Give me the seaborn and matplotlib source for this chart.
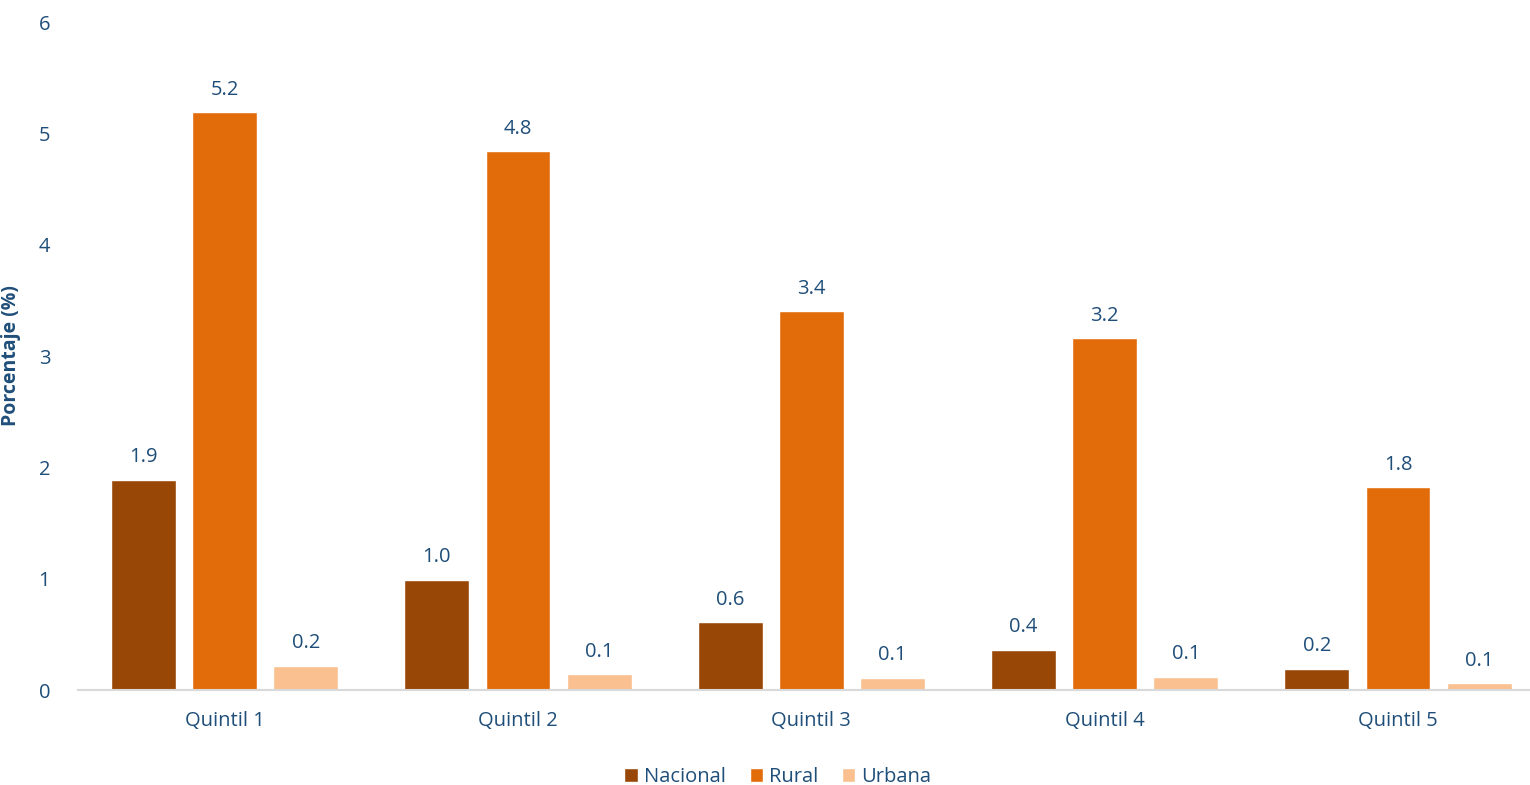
import seaborn as sns
import pandas as pd
import matplotlib.pyplot as plt

quintiles = ["Quintil 1", "Quintil 2", "Quintil 3", "Quintil 4", "Quintil 5"]
nacional = [1.89, 0.99, 0.61, 0.36, 0.19]
rural = [5.19, 4.84, 3.40, 3.16, 1.82]
urbana = [0.22, 0.14, 0.11, 0.12, 0.06]
series = ["Nacional", "Rural", "Urbana"]
colors = ["#994707", "#E36C0A", "#FAC090"]
text_color = "#1F4E79"

sns.set_theme(style="white")
plt.rcParams['font.family'] = ['Open Sans', 'DejaVu Sans']

df = pd.DataFrame({
    "quintil": quintiles * 3,
    "valor": nacional + rural + urbana,
    "area": [s for s in series for _ in quintiles],
})

fig = plt.figure(figsize=(15.3, 7.85), dpi=100)
ax = fig.add_axes([78 / 1530, 1 - 690 / 785, 1 - 78 / 1530, (690 - 22) / 785])
sns.barplot(df, x="quintil", y="valor", hue="area", palette=colors,
            width=0.83, gap=0.2, saturation=1, ax=ax)

for c in ax.containers:
    ax.bar_label(c, fmt="%.1f", padding=9, fontsize=14.5, color=text_color)

ax.set_ylim(0, 6)
ax.set_xlim(-0.5, 4.45)
ax.set_yticks(range(7))
ax.set_xlabel("")
ax.set_ylabel("Porcentaje (%)", fontsize=14, fontweight="bold", color=text_color)
ax.yaxis.set_label_coords(-0.039, 0.5)
ax.tick_params(axis="both", length=0, labelsize=14.5, labelcolor=text_color)
ax.tick_params(axis="y", pad=20)
ax.tick_params(axis="x", pad=15)
for s in ["top", "right", "left"]:
    ax.spines[s].set_visible(False)
ax.spines["bottom"].set_color("#D9D9D9")
ax.spines["bottom"].set_linewidth(1.5)

ax.legend(loc="upper center", bbox_to_anchor=(0.482, -0.097), ncol=3, frameon=False,
          fontsize=14.5, labelcolor=text_color, handlelength=0.65, handleheight=0.7,
          handletextpad=0.3, columnspacing=1.2, borderaxespad=0.2)

fig.savefig("out.png", dpi=100)
